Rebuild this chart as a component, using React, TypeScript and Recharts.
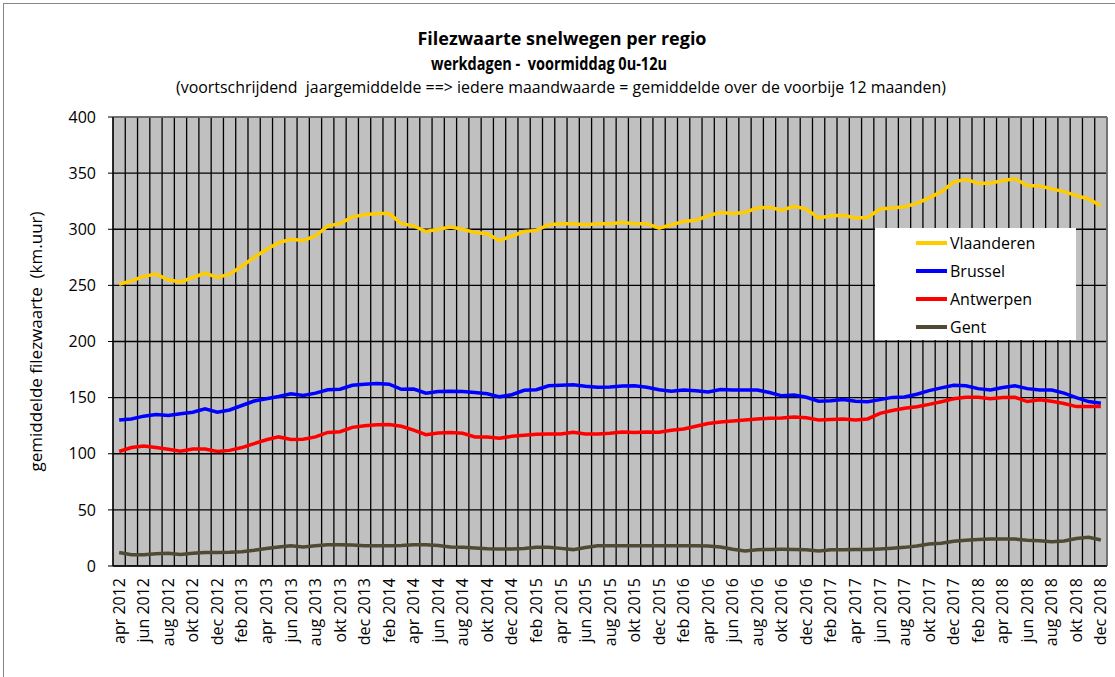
import {
  LineChart,
  Line,
  XAxis,
  YAxis,
  CartesianGrid,
  Legend,
  ReferenceLine,
} from "recharts";

// maanden apr 2012 .. dec 2018
const monthNames = ["jan", "feb", "mrt", "apr", "mei", "jun", "jul", "aug", "sep", "okt", "nov", "dec"];
const months: string[] = [];
for (let y = 2012; y <= 2018; y++) {
  for (let m = 0; m < 12; m++) {
    if (y === 2012 && m < 3) continue;
    months.push(`${monthNames[m]} ${y}`);
  }
}

const vlaanderen = [
  251, 254, 258, 260, 255, 253, 257, 261, 257, 260, 267, 275, 282, 288, 291, 290, 294, 303, 305, 311,
  313, 314, 314, 305, 303, 298, 300, 302, 300, 297, 296, 290, 294, 298, 299, 304, 305, 305, 304, 305,
  305, 306, 305, 305, 301, 304, 307, 308, 312, 315, 314, 315, 319, 319.5, 317, 320.5, 318, 310, 312, 312.5,
  310, 310.5, 318, 319, 320, 323, 328, 333.5, 342, 344.5, 341, 341, 343.5, 345, 339, 338.5, 336, 333.5, 330, 327,
  321,
];
const brussel = [
  130, 131, 133.5, 135, 134, 135.7, 137, 140, 137, 139, 143, 147, 149, 151, 153.5, 152, 154, 157, 157.5, 161,
  162, 162.5, 162, 157.4, 157.7, 154, 155.5, 155.6, 155.4, 154.5, 153.4, 150.7, 152.6, 156.5, 157, 160.6, 161, 161.5, 160.2, 159.3,
  159.5, 160.3, 160.6, 159.3, 157, 155.6, 156.7, 156.2, 155, 157.2, 156.8, 156.8, 156.8, 154.5, 151.6, 152.3, 150.3, 146.8, 147.3, 148.3,
  146.8, 146.4, 148.2, 150.2, 150.5, 153, 156.2, 158.7, 161, 160.6, 158, 156.8, 159, 160.5, 158, 156.8, 156.8, 154, 150, 146.5,
  145,
];
const antwerpen = [
  102, 105.5, 107, 105.5, 104, 102.3, 104.2, 104.2, 102, 103, 105.5, 109, 112.5, 115, 112.7, 113, 115, 119, 119.6, 123.5,
  125, 125.8, 126, 124.5, 121, 117, 118.5, 119, 118.2, 115, 115, 113.8, 115.5, 116.5, 117.3, 117.6, 117.6, 119.2, 117.6, 117.6,
  118.3, 119.3, 119, 119.3, 119.1, 121, 122, 124.5, 127, 128.3, 129.2, 130, 131, 131.6, 131.8, 132.8, 132, 130, 130.6, 131,
  130, 131, 136, 138.5, 140.5, 141.8, 144, 146.4, 149, 150.4, 150.4, 149, 150.1, 150.3, 146.5, 148, 146.8, 144.8, 142, 142,
  142,
];
const gent = [
  12, 10, 10, 11, 11.3, 10.3, 11.3, 12, 12, 12.2, 12.8, 14, 15.5, 17, 18, 17, 18, 19, 19, 18.7,
  18, 18, 18, 18.2, 19, 19, 18.3, 17, 16.6, 16, 15.4, 15.1, 15.2, 15.5, 16.7, 16.8, 15.7, 14.6, 16.5, 18,
  18, 18, 18, 18, 18, 18, 18, 18, 17.8, 17, 15, 13.4, 14.5, 14.8, 14.9, 14.8, 14.5, 13.4, 14.4, 14.5,
  14.6, 14.8, 15.2, 15.8, 16.6, 17.8, 19.5, 20.2, 22, 23, 23.5, 24, 24, 24, 23, 22.5, 21.7, 22.2, 24.5, 25.5,
  23.2,
];

const yTicks = [0, 50, 100, 150, 200, 250, 300, 350, 400];

const series = [
  { key: "vlaanderen", name: "Vlaanderen", color: "#FFCC00" },
  { key: "brussel", name: "Brussel", color: "#0000FF" },
  { key: "antwerpen", name: "Antwerpen", color: "#FF0000" },
  { key: "gent", name: "Gent", color: "#4E4A33" },
];

const data = months.map((m, i) => ({
  i,
  month: m,
  vlaanderen: vlaanderen[i],
  brussel: brussel[i],
  antwerpen: antwerpen[i],
  gent: gent[i],
}));

// gridlines and tick marks sit between months, labels every 2nd month
const edgeTicks = months.map((_, i) => i - 0.5).concat(months.length - 0.5);
const labelTicks = months.map((_, i) => i).filter((i) => i % 2 === 0);
const xDomain = [-0.5, months.length - 0.5];

const FONT = "'Open Sans', sans-serif";

function MonthTick({ x, y, payload }: any) {
  return (
    <text
      x={x}
      y={y}
      transform={`rotate(-90, ${x}, ${y})`}
      textAnchor="end"
      dy="0.35em"
      fontSize={16}
      fontFamily={FONT}
      fill="#000"
    >
      {months[payload.value]}
    </text>
  );
}

function LegendBox() {
  return (
    <div style={{ background: "#fff", width: 201, height: 112, paddingTop: 1, boxSizing: "border-box" }}>
      {series.map((s) => (
        <div key={s.key} style={{ display: "flex", alignItems: "center", height: 28 }}>
          <div style={{ width: 31, height: 4, background: s.color, marginLeft: 41, marginRight: 3 }} />
          <span style={{ fontSize: 16, fontFamily: FONT, color: "#000", lineHeight: "28px" }}>{s.name}</span>
        </div>
      ))}
    </div>
  );
}

// vertical gridlines on the month boundaries
const verticalLines = ({ offset }: any) =>
  edgeTicks.map((t) => offset.left + ((t - xDomain[0]) / (xDomain[1] - xDomain[0])) * offset.width);

export default function App() {
  return (
    <div
      style={{
        position: "absolute",
        left: 0,
        top: 0,
        width: 1115,
        height: 677,
        overflow: "hidden",
        background: "#fff",
        fontFamily: FONT,
      }}
    >
      {/* chart frame */}
      <div
        style={{
          position: "absolute",
          left: 3,
          top: 3,
          width: 1130,
          height: 700,
          border: "1px solid #868686",
        }}
      />

      <LineChart
        width={1115}
        height={677}
        data={data}
        margin={{ top: 117, right: 8, bottom: 26, left: 53 }}
      >
        <CartesianGrid
          xAxisId="edge"
          fill="#C0C0C0"
          stroke="#000"
          strokeWidth={1.3}
          strokeOpacity={1}
          verticalCoordinatesGenerator={verticalLines}
        />
        <XAxis
          xAxisId="edge"
          type="number"
          dataKey="i"
          domain={xDomain}
          ticks={edgeTicks}
          interval={0}
          tick={false}
          tickSize={5}
          height={5}
          axisLine={{ stroke: "#000" }}
          tickLine={{ stroke: "#000" }}
        />
        <XAxis
          xAxisId="lab"
          type="number"
          dataKey="i"
          domain={xDomain}
          ticks={labelTicks}
          interval={0}
          height={80}
          tickSize={0}
          tickMargin={7}
          axisLine={false}
          tickLine={false}
          tick={<MonthTick />}
        />
        <YAxis
          domain={[0, 400]}
          ticks={yTicks}
          interval={0}
          width={60}
          tickSize={5}
          tickMargin={12}
          axisLine={{ stroke: "#000" }}
          tickLine={{ stroke: "#000" }}
          tick={{ fill: "#000", fontSize: 16, fontFamily: FONT }}
          label={{
            content: ({ viewBox }: any) => {
              const cy = viewBox.y + viewBox.height / 2;
              return (
                <text
                  x={36}
                  y={cy}
                  transform={`rotate(-90, 36, ${cy})`}
                  textAnchor="middle"
                  dy="0.35em"
                  fontSize={17}
                  fontFamily={FONT}
                  fill="#000"
                  style={{ whiteSpace: "pre" }}
                >
                  gemiddelde filezwaarte  (km.uur)
                </text>
              );
            },
          }}
        />
        <ReferenceLine xAxisId="edge" y={400} stroke="#808080" strokeWidth={1.5} />
        <ReferenceLine xAxisId="edge" x={months.length - 0.5} stroke="#808080" strokeWidth={1.5} />
        {series.map((s) => (
          <Line
            key={s.key}
            xAxisId="edge"
            type="linear"
            dataKey={s.key}
            name={s.name}
            stroke={s.color}
            strokeWidth={3.5}
            dot={false}
            activeDot={false}
            isAnimationActive={false}
          />
        ))}
        <Legend
          layout="vertical"
          align="center"
          verticalAlign="middle"
          wrapperStyle={{ left: 875, top: 228, width: 201, height: 112 }}
          content={<LegendBox />}
        />
      </LineChart>

      {/* titles */}
      <svg
        width={1115}
        height={110}
        style={{ position: "absolute", left: 0, top: 0, pointerEvents: "none" }}
      >
        <text x={562} y={45} textAnchor="middle" fontSize={17.5} fontWeight="bold" fontFamily={FONT}
          textLength={289} lengthAdjust="spacingAndGlyphs">
          Filezwaarte snelwegen per regio
        </text>
        <text x={549} y={70} textAnchor="middle" fontSize={17.5} fontWeight="bold" fontFamily={FONT}
          textLength={236} lengthAdjust="spacingAndGlyphs" style={{ whiteSpace: "pre" }}>
          werkdagen -  voormiddag 0u-12u
        </text>
        <text x={561} y={93} textAnchor="middle" fontSize={15.5} fontFamily={FONT}
          textLength={770} lengthAdjust="spacingAndGlyphs" style={{ whiteSpace: "pre" }}>
          (voortschrijdend  jaargemiddelde ==&gt; iedere maandwaarde = gemiddelde over de voorbije 12 maanden)
        </text>
      </svg>
    </div>
  );
}
